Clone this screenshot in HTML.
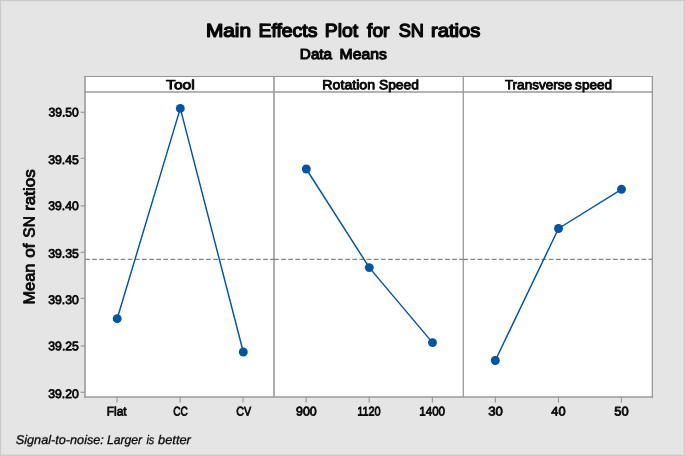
<!DOCTYPE html>
<html lang="en"><head><meta charset="utf-8"><title>Main Effects Plot for SN ratios</title>
<style>html,body{margin:0;padding:0;background:#e5e5e5;overflow:hidden}svg{display:block}text{font-family:"Liberation Sans",Arial,sans-serif;fill:#080808;text-rendering:geometricPrecision}.sb{stroke:#080808;stroke-linejoin:round}.it{font-style:italic;stroke:#080808;stroke-linejoin:round}</style></head><body>
<svg width="685" height="456" viewBox="0 0 685 456">
<rect x="0" y="0" width="685" height="456" fill="#e5e5e5"/>
<rect x="0.5" y="0.5" width="684" height="455" fill="none" stroke="#cbcbcb" stroke-width="1"/>
<path d="M1.5 454.5V1.5H683.5" fill="none" stroke="#e0e0e0" stroke-width="1"/>
<path d="M1.5 454.5H683.5V1.5" fill="none" stroke="#d9d9d9" stroke-width="1"/>
<rect x="85.00" y="76.40" width="567.30" height="320.70" fill="#fff"/>
<g stroke="#9a9a9a" fill="none">
<line x1="84.20" y1="76.5" x2="653.05" y2="76.5" stroke-width="1.15" stroke="#969696"/>
<line x1="84.20" y1="397.10" x2="653.05" y2="397.10" stroke-width="1.5"/>
<line x1="85.00" y1="75.93" x2="85.00" y2="397.85" stroke-width="1.6"/>
<line x1="652.35" y1="75.93" x2="652.35" y2="397.85" stroke-width="1.35"/>
<line x1="85.00" y1="91.90" x2="652.30" y2="91.90" stroke-width="1.5"/>
<line x1="274.00" y1="76" x2="274.00" y2="397.10" stroke-width="1.6"/>
<line x1="463.30" y1="76" x2="463.30" y2="397.10" stroke-width="1.3"/>
</g>
<g stroke="#9a9a9a" stroke-width="1.2" fill="none">
<line x1="80.6" y1="112.30" x2="85.00" y2="112.30"/>
<line x1="80.6" y1="158.30" x2="85.00" y2="158.30"/>
<line x1="80.6" y1="205.80" x2="85.00" y2="205.80"/>
<line x1="80.6" y1="252.30" x2="85.00" y2="252.30"/>
<line x1="80.6" y1="298.40" x2="85.00" y2="298.40"/>
<line x1="80.6" y1="346.00" x2="85.00" y2="346.00"/>
<line x1="80.6" y1="392.30" x2="85.00" y2="392.30"/>
<line x1="117.10" y1="397.10" x2="117.10" y2="402.6"/>
<line x1="180.20" y1="397.10" x2="180.20" y2="402.6"/>
<line x1="243.00" y1="397.10" x2="243.00" y2="402.6"/>
<line x1="306.20" y1="397.10" x2="306.20" y2="402.6"/>
<line x1="369.20" y1="397.10" x2="369.20" y2="402.6"/>
<line x1="432.40" y1="397.10" x2="432.40" y2="402.6"/>
<line x1="495.40" y1="397.10" x2="495.40" y2="402.6"/>
<line x1="558.50" y1="397.10" x2="558.50" y2="402.6"/>
<line x1="621.40" y1="397.10" x2="621.40" y2="402.6"/>
</g>
<g stroke="#878787" stroke-width="1.15" stroke-dasharray="4.75 2.375" fill="none">
<line x1="85.00" y1="259.3" x2="274.00" y2="259.3"/>
<line x1="274.00" y1="259.3" x2="463.30" y2="259.3"/>
<line x1="463.30" y1="259.3" x2="652.30" y2="259.3"/>
</g>
<polyline fill="none" stroke="#0054a6" stroke-width="1.45" stroke-linejoin="round" points="117.2,318.7 180.3,108.4 243.3,352.0"/>
<polyline fill="none" stroke="#0054a6" stroke-width="1.45" stroke-linejoin="round" points="306.3,169.0 369.3,267.6 432.5,342.6"/>
<polyline fill="none" stroke="#0054a6" stroke-width="1.45" stroke-linejoin="round" points="495.3,360.5 558.5,228.5 621.5,189.3"/>
<g fill="#0054a6">
<circle cx="117.2" cy="318.7" r="4.45"/>
<circle cx="180.3" cy="108.4" r="4.45"/>
<circle cx="243.3" cy="352.0" r="4.45"/>
<circle cx="306.3" cy="169.0" r="4.45"/>
<circle cx="369.3" cy="267.6" r="4.45"/>
<circle cx="432.5" cy="342.6" r="4.45"/>
<circle cx="495.3" cy="360.5" r="4.45"/>
<circle cx="558.5" cy="228.5" r="4.45"/>
<circle cx="621.5" cy="189.3" r="4.45"/>
</g>
<g style="filter:grayscale(1)">
<text class="sb" stroke-width="1.3" transform="rotate(0.04 343.2 36.8)" y="36.75" font-size="18.5"><tspan x="205.93" textLength="45.16" lengthAdjust="spacingAndGlyphs">Main</tspan> <tspan x="258.49" textLength="58.89" lengthAdjust="spacingAndGlyphs">Effects</tspan> <tspan x="324.82" textLength="33.32" lengthAdjust="spacingAndGlyphs">Plot</tspan> <tspan x="367.09" textLength="22.36" lengthAdjust="spacingAndGlyphs">for</tspan> <tspan x="398.65" textLength="25.24" lengthAdjust="spacingAndGlyphs">SN</tspan> <tspan x="431.05" textLength="49.34" lengthAdjust="spacingAndGlyphs">ratios</tspan></text>
<text class="sb" stroke-width="1.1" transform="rotate(0.04 343.4 59.0)" y="59.00" font-size="14.6"><tspan x="299.89" textLength="32.20" lengthAdjust="spacingAndGlyphs">Data</tspan> <tspan x="339.55" textLength="47.29" lengthAdjust="spacingAndGlyphs">Means</tspan></text>
<text class="sb" stroke-width="0.9" transform="rotate(0.04 180.4 89.3)" y="89.30" font-size="13.3"><tspan x="166.08" textLength="28.68" lengthAdjust="spacingAndGlyphs">Tool</tspan></text>
<text class="sb" stroke-width="0.9" transform="rotate(0.04 370.6 89.3)" y="89.30" font-size="13.3"><tspan x="322.39" textLength="52.70" lengthAdjust="spacingAndGlyphs">Rotation</tspan> <tspan x="379.00" textLength="39.81" lengthAdjust="spacingAndGlyphs">Speed</tspan></text>
<text class="sb" stroke-width="0.9" transform="rotate(0.04 558.5 89.3)" y="89.30" font-size="13.3"><tspan x="504.88" textLength="67.04" lengthAdjust="spacingAndGlyphs">Transverse</tspan> <tspan x="575.12" textLength="36.92" lengthAdjust="spacingAndGlyphs">speed</tspan></text>
<text class="sb" stroke-width="0.8" transform="rotate(0.04 63.6 116.5)" y="116.45" font-size="12.45"><tspan x="48.53" textLength="30.20" lengthAdjust="spacingAndGlyphs">39.50</tspan></text>
<text class="sb" stroke-width="0.8" transform="rotate(0.04 63.5 164.0)" y="164.05" font-size="12.45"><tspan x="48.22" textLength="30.64" lengthAdjust="spacingAndGlyphs">39.45</tspan></text>
<text class="sb" stroke-width="0.8" transform="rotate(0.04 63.5 209.9)" y="209.95" font-size="12.45"><tspan x="48.33" textLength="30.41" lengthAdjust="spacingAndGlyphs">39.40</tspan></text>
<text class="sb" stroke-width="0.8" transform="rotate(0.04 63.5 257.8)" y="257.85" font-size="12.45"><tspan x="48.22" textLength="30.64" lengthAdjust="spacingAndGlyphs">39.35</tspan></text>
<text class="sb" stroke-width="0.8" transform="rotate(0.04 63.5 303.9)" y="303.95" font-size="12.45"><tspan x="48.24" textLength="30.48" lengthAdjust="spacingAndGlyphs">39.30</tspan></text>
<text class="sb" stroke-width="0.8" transform="rotate(0.04 63.6 350.2)" y="350.25" font-size="12.45"><tspan x="48.32" textLength="30.55" lengthAdjust="spacingAndGlyphs">39.25</tspan></text>
<text class="sb" stroke-width="0.8" transform="rotate(0.04 63.5 398.1)" y="398.05" font-size="12.45"><tspan x="48.22" textLength="30.55" lengthAdjust="spacingAndGlyphs">39.20</tspan></text>
<text class="sb" stroke-width="0.8" transform="rotate(0.04 116.7 415.6)" y="415.55" font-size="12.5"><tspan x="106.75" textLength="19.86" lengthAdjust="spacingAndGlyphs">Flat</tspan></text>
<text class="sb" stroke-width="0.8" transform="rotate(0.04 180.6 415.6)" y="415.55" font-size="12.5"><tspan x="173.26" textLength="14.59" lengthAdjust="spacingAndGlyphs">CC</tspan></text>
<text class="sb" stroke-width="0.8" transform="rotate(0.04 243.6 415.6)" y="415.55" font-size="12.5"><tspan x="236.15" textLength="14.94" lengthAdjust="spacingAndGlyphs">CV</tspan></text>
<text class="sb" stroke-width="0.8" transform="rotate(0.04 306.4 415.6)" y="415.55" font-size="12.5"><tspan x="296.02" textLength="20.73" lengthAdjust="spacingAndGlyphs">900</tspan></text>
<text class="sb" stroke-width="0.8" transform="rotate(0.04 368.9 415.6)" y="415.55" font-size="12.5"><tspan x="357.14" textLength="23.60" lengthAdjust="spacingAndGlyphs">1120</tspan></text>
<text class="sb" stroke-width="0.8" transform="rotate(0.04 432.2 415.6)" y="415.55" font-size="12.5"><tspan x="419.20" textLength="25.90" lengthAdjust="spacingAndGlyphs">1400</tspan></text>
<text class="sb" stroke-width="0.8" transform="rotate(0.04 495.6 415.6)" y="415.55" font-size="12.5"><tspan x="488.25" textLength="14.62" lengthAdjust="spacingAndGlyphs">30</tspan></text>
<text class="sb" stroke-width="0.8" transform="rotate(0.04 558.5 415.6)" y="415.55" font-size="12.5"><tspan x="551.39" textLength="14.29" lengthAdjust="spacingAndGlyphs">40</tspan></text>
<text class="sb" stroke-width="0.8" transform="rotate(0.04 621.6 415.6)" y="415.55" font-size="12.5"><tspan x="614.39" textLength="14.37" lengthAdjust="spacingAndGlyphs">50</tspan></text>
<text class="it" stroke-width="0.3" transform="rotate(0.04 103.3 444.3)" y="444.30" font-size="12.5"><tspan x="15.79" textLength="88.12" lengthAdjust="spacingAndGlyphs">Signal-to-noise:</tspan> <tspan x="106.92" textLength="35.28" lengthAdjust="spacingAndGlyphs">Larger</tspan> <tspan x="146.44" textLength="7.89" lengthAdjust="spacingAndGlyphs">is</tspan> <tspan x="158.03" textLength="32.87" lengthAdjust="spacingAndGlyphs">better</tspan></text>
<text class="sb" stroke-width="0.85" transform="translate(34.56 303.40) rotate(-89.96)" y="0" font-size="15.85"><tspan x="-1.17" textLength="41.06" lengthAdjust="spacingAndGlyphs">Mean</tspan> <tspan x="45.56" textLength="14.24" lengthAdjust="spacingAndGlyphs">of</tspan> <tspan x="65.72" textLength="21.49" lengthAdjust="spacingAndGlyphs">SN</tspan> <tspan x="92.60" textLength="41.50" lengthAdjust="spacingAndGlyphs">ratios</tspan></text>
</g>
</svg></body></html>
